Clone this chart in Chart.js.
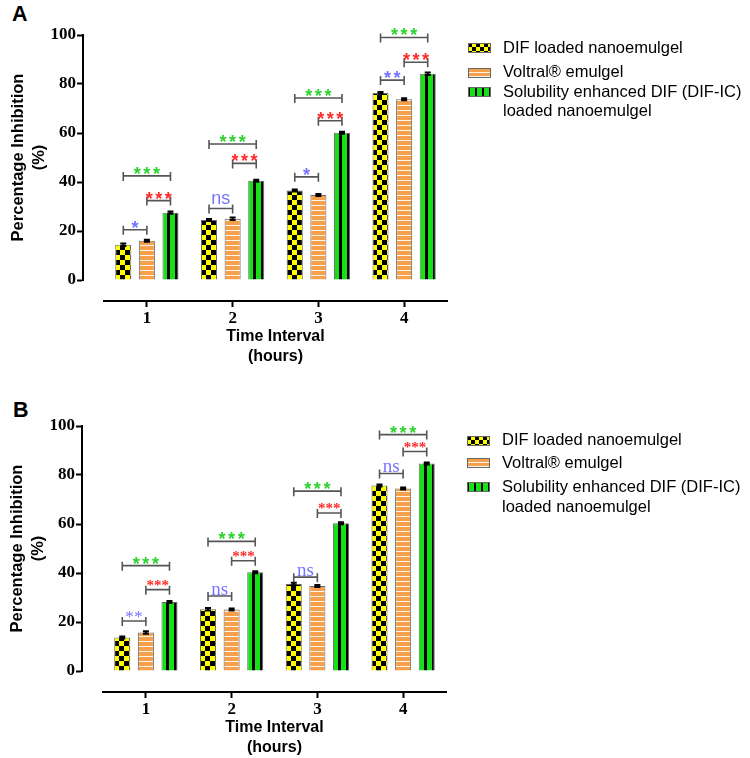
<!DOCTYPE html>
<html><head><meta charset="utf-8">
<script src="https://cdn.jsdelivr.net/npm/chart.js@4.4.1/dist/chart.umd.min.js"></script>
<style>
html,body{margin:0;padding:0;background:#fff;width:750px;height:758px;overflow:hidden;position:relative}
.wrap{position:absolute;width:750px;height:367px}
.tag{position:absolute;font:bold 21.5px "Liberation Sans",Arial,sans-serif;line-height:21.5px;color:#000}
</style></head><body>
<div class="tag" style="left:12px;top:4px">A</div>
<div class="wrap" style="left:0;top:0"><canvas id="cA" width="750" height="367"></canvas></div>
<div class="tag" style="left:13px;top:400px">B</div>
<div class="wrap" style="left:-1px;top:391px"><canvas id="cB" width="750" height="367"></canvas></div>
<script>
// ---------- data ----------
const categories = ['1', '2', '3', '4'];
const seriesNames = ['DIF loaded nanoemulgel', 'Voltral® emulgel', 'Solubility enhanced DIF (DIF-IC)\nloaded nanoemulgel'];
const yTicks = [0, 20, 40, 60, 80, 100];

// Panel A
const difA   = [14.4, 24.5, 36.5, 76.3];
const voltA  = [16.0, 25.0, 34.7, 73.8];
const dificA = [27.5, 40.5, 60.1, 84.2];
const difErrA   = [0.5, 0.4, 0.4, 0.4];
const voltErrA  = [0.4, 0.5, 0.4, 0.4];
const dificErrA = [0.5, 0.4, 0.4, 0.5];
const sigDifVoltA   = ['*', 'ns', '*', '**'];
const sigDifVoltLvA = [20.5, 29.2, 42.1, 81.6];
const sigVoltIcA    = ['***', '***', '***', '***'];
const sigVoltIcLvA  = [32.4, 47.6, 65.0, 88.9];
const sigDifIcA     = ['***', '***', '***', '***'];
const sigDifIcLvA   = [42.5, 55.5, 74.3, 99.0];

// Panel B
const difB   = [13.7, 25.2, 35.5, 75.7];
const voltB  = [15.7, 25.1, 34.7, 74.5];
const dificB = [28.2, 40.3, 60.3, 84.7];
const difErrB   = [0.4, 0.5, 0.5, 0.4];
const voltErrB  = [0.5, 0.4, 0.4, 0.4];
const dificErrB = [0.4, 0.4, 0.4, 0.4];
const sigDifVoltB   = ['**', 'ns', 'ns', 'ns'];
const sigDifVoltLvB = [20.4, 30.6, 38.3, 80.6];
const sigVoltIcB    = ['***', '***', '***', '***'];
const sigVoltIcLvB  = [33.2, 45.0, 64.5, 89.6];
const sigDifIcB     = ['***', '***', '***', '***'];
const sigDifIcLvB   = [43.0, 52.9, 73.4, 96.5];

// ---------- styles ----------
const SANS = '"Liberation Sans", Arial, sans-serif';
const SERIF = '"Liberation Serif", "Times New Roman", serif';
const baseColors = ['#ffff00', '#f6a04c', '#16e016'];
const GREEN_T = '#2fd12f', RED_T = '#ff2a2a', BLUE_T = '#7474ff';

function makeTile(kind, small) {
  const c = document.createElement('canvas');
  const g = c.getContext('2d');
  if (kind === 0) {
    const s = small ? 4 : 5;
    c.width = 2 * s; c.height = 2 * s;
    g.fillStyle = '#ffff00'; g.fillRect(0, 0, 2 * s, 2 * s);
    g.fillStyle = '#000'; g.fillRect(0, 0, s, s); g.fillRect(s, s, s, s);
  } else if (kind === 1) {
    const p = small ? 4 : 5;
    c.width = 4; c.height = p;
    g.fillStyle = '#f6a04c'; g.fillRect(0, 0, 4, p);
    g.fillStyle = 'rgba(255,255,255,0.9)'; g.fillRect(0, 0, 4, 1);
  } else {
    if (small) {
      c.width = 7; c.height = 2;
      g.fillStyle = '#000'; g.fillRect(0, 0, 2, 2);
      g.fillStyle = '#16e016'; g.fillRect(2, 0, 5, 2);
    } else {
      c.width = 8; c.height = 2;
      g.fillStyle = '#16e016'; g.fillRect(0, 0, 5, 2);
      g.fillStyle = '#000'; g.fillRect(5, 0, 3, 2);
    }
  }
  return c;
}
const tiles = [0, 1, 2].map(k => makeTile(k, false));
const legendTiles = [0, 1, 2].map(k => makeTile(k, true));

const patternPlugin = {
  id: 'barPatterns',
  beforeDatasetsDraw(chart) {
    const ctx = chart.ctx;
    chart.data.datasets.forEach((ds, di) => {
      const meta = chart.getDatasetMeta(di);
      meta.data.forEach(el => {
        const left = Math.round(el.x - el.width / 2);
        const p = ctx.createPattern(tiles[di], 'repeat');
        p.setTransform(new DOMMatrix().translate(left, Math.round(el.base)));
        el.options = Object.assign({}, el.options, { backgroundColor: p });
      });
    });
  }
};

function annotPlugin(panel) {
  return {
    id: 'annot',
    afterDatasetsDraw(chart) {
      const ctx = chart.ctx;
      const ys = chart.scales.y;
      const els = i => chart.getDatasetMeta(i).data;
      ctx.save();
      // error bars
      panel.series.forEach((vals, i) => {
        els(i).forEach((el, j) => {
          const x = el.x;
          const t = ys.getPixelForValue(vals[j] + panel.errs[i][j]);
          const b = ys.getPixelForValue(vals[j] - panel.errs[i][j]);
          ctx.strokeStyle = '#000'; ctx.lineWidth = 2;
          ctx.beginPath();
          ctx.moveTo(x, t); ctx.lineTo(x, b);
          ctx.moveTo(x - 3, t); ctx.lineTo(x + 3, t);
          ctx.moveTo(x - 3, b); ctx.lineTo(x + 3, b);
          ctx.stroke();
        });
      });
      // significance brackets
      panel.brackets.forEach(br => {
        br.levels.forEach((lv, j) => {
          const x1 = els(br.a)[j].x, x2 = els(br.b)[j].x;
          const y = ys.getPixelForValue(lv);
          ctx.strokeStyle = '#555'; ctx.lineWidth = 1.6;
          ctx.beginPath();
          ctx.moveTo(x1, y); ctx.lineTo(x2, y);
          ctx.moveTo(x1, y - 4); ctx.lineTo(x1, y + 5);
          ctx.moveTo(x2, y - 4); ctx.lineTo(x2, y + 5);
          ctx.stroke();
          const lab = br.labels[j];
          const st = lab === 'ns' ? br.nsStyle : br.starStyle;
          ctx.fillStyle = br.color;
          ctx.font = st.font;
          ctx.textAlign = 'left';
          ctx.textBaseline = 'alphabetic';
          ctx.letterSpacing = (lab !== 'ns' ? (st.gap || 0) : 0) + 'px';
          const w = ctx.measureText(lab).width - (lab !== 'ns' ? (st.gap || 0) : 0);
          ctx.fillText(lab, (x1 + x2) / 2 - w / 2, y + st.dy);
        });
      });
      ctx.letterSpacing = '0px';
      ctx.restore();
    }
  };
}

function legendPlugin(lg) {
  return {
    id: 'customLegend',
    afterDraw(chart) {
      const ctx = chart.ctx;
      ctx.save();
      chart.data.datasets.forEach((ds, i) => {
        const cy = lg.rows[i];
        const bx = 468, by = Math.round(cy - 5), bw = 23, bh = 10;
        const p = ctx.createPattern(legendTiles[i], 'repeat');
        p.setTransform(new DOMMatrix().translate(bx, by));
        ctx.fillStyle = p;
        ctx.fillRect(bx, by, bw, bh);
        ctx.strokeStyle = '#666'; ctx.lineWidth = 1;
        ctx.strokeRect(bx + 0.5, by + 0.5, bw - 1, bh - 1);
        ctx.fillStyle = '#000';
        ctx.font = '16.5px ' + SANS;
        ctx.textAlign = 'left';
        ctx.textBaseline = 'middle';
        ds.label.split('\n').forEach((line, k) => {
          ctx.fillText(line, 503, cy + k * lg.lineGap);
        });
      });
      ctx.restore();
    }
  };
}

function buildChart(id, panel) {
  const datasets = panel.series.map((vals, i) => ({
    label: seriesNames[i],
    data: vals,
    xAxisID: 'x', yAxisID: 'y',
    backgroundColor: baseColors[i],
    borderColor: '#6b6b6b', borderWidth: 1,
    categoryPercentage: 0.826, barPercentage: 0.68
  }));
  return new Chart(document.getElementById(id), {
    type: 'bar',
    data: { labels: categories, datasets },
    options: {
      responsive: false, animation: false, devicePixelRatio: 1,
      layout: { padding: { left: 0, right: 303, top: 35, bottom: 0 } },
      plugins: { legend: { display: false }, tooltip: { enabled: false } },
      scales: {
        xgap: { type: 'linear', position: 'bottom', stack: 'xs', stackWeight: 21, display: false,
                afterFit(s) { s.height = 66; } },
        x: {
          type: 'category', position: 'bottom', stack: 'xs', stackWeight: 343, offset: true,
          grid: { display: true, drawOnChartArea: false, drawTicks: true, tickLength: 6, tickWidth: 2, tickColor: '#000', offset: false },
          border: { display: true, color: '#000', width: 2 },
          ticks: { color: '#000', font: { family: SERIF, weight: 'bold', size: 17 }, padding: 1, maxRotation: 0 },
          title: { display: true, text: ['Time Interval', '(hours)'], color: '#000',
                   font: { family: SANS, weight: 'bold', size: 16, lineHeight: 1.25 }, padding: { top: 0, bottom: 0.6 } },
          afterFit(s) { s.height = 66; }
        },
        ygap: { type: 'linear', position: 'left', stack: 'ys', stackWeight: 21, display: false,
                afterFit(s) { s.width = 83; } },
        y: {
          type: 'linear', position: 'left', stack: 'ys', stackWeight: 245, min: 0, max: 100,
          afterBuildTicks(s) { s.ticks = yTicks.map(v => ({ value: v })); },
          grid: { drawOnChartArea: false, tickLength: 6, tickWidth: 2, tickColor: '#000' },
          border: { display: true, color: '#000', width: 2 },
          ticks: { color: '#000', font: { family: SERIF, weight: 'bold', size: 17 }, padding: 1 },
          title: { display: true, text: ['Percentage Inhibition', '(%)'], color: '#000',
                   font: { family: SANS, weight: 'bold', size: 16.5, lineHeight: 1.3 }, padding: { top: 7.5, bottom: 0 } },
          afterFit(s) { s.width = 83; }
        }
      }
    },
    plugins: [patternPlugin, annotPlugin(panel), legendPlugin(panel.legend)]
  });
}

const sansStar = { font: 'bold 18px ' + SANS, dy: 4, gap: 2.5 };
const sansNs = { font: '18px ' + SANS, dy: -4, gap: 0 };

buildChart('cA', {
  series: [difA, voltA, dificA],
  errs: [difErrA, voltErrA, dificErrA],
  brackets: [
    { a: 0, b: 1, labels: sigDifVoltA, levels: sigDifVoltLvA, color: BLUE_T, starStyle: sansStar, nsStyle: sansNs },
    { a: 1, b: 2, labels: sigVoltIcA, levels: sigVoltIcLvA, color: RED_T, starStyle: sansStar, nsStyle: sansNs },
    { a: 0, b: 2, labels: sigDifIcA, levels: sigDifIcLvA, color: GREEN_T, starStyle: sansStar, nsStyle: sansNs }
  ],
  legend: { rows: [48, 72.5, 92], lineGap: 19 }
});

buildChart('cB', {
  series: [difB, voltB, dificB],
  errs: [difErrB, voltErrB, dificErrB],
  brackets: [
    { a: 0, b: 1, labels: sigDifVoltB, levels: sigDifVoltLvB, color: BLUE_T,
      starStyle: { font: '17px ' + SERIF, dy: 0.5, gap: 0.5 }, nsStyle: { font: '19px ' + SERIF, dy: -1.5, gap: 0 } },
    { a: 1, b: 2, labels: sigVoltIcB, levels: sigVoltIcLvB, color: RED_T,
      starStyle: { font: 'bold 15px ' + SERIF, dy: 0.5, gap: 0 }, nsStyle: sansNs },
    { a: 0, b: 2, labels: sigDifIcB, levels: sigDifIcLvB, color: GREEN_T, starStyle: sansStar, nsStyle: sansNs }
  ],
  legend: { rows: [49.5, 72, 96], lineGap: 20 }
});
</script>
</body></html>
